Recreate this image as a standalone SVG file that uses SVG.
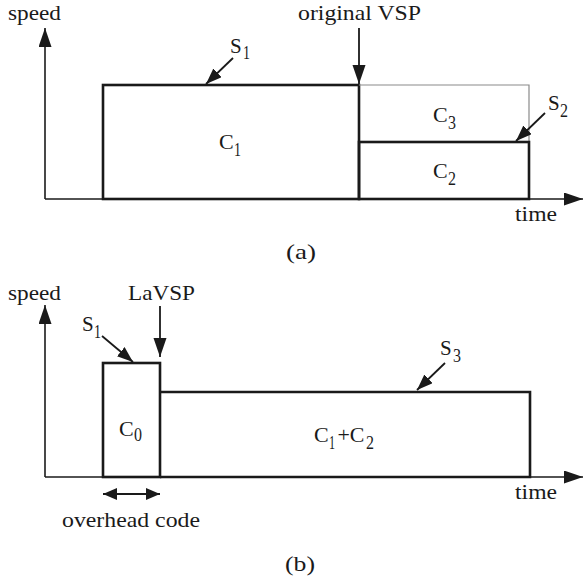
<svg xmlns="http://www.w3.org/2000/svg" width="584" height="580" viewBox="0 0 584 580">
<style>
.t{font-size:21px}
.c{font-size:22px}
.sub{font-size:18px}
.box{fill:none;stroke:#1a1a1a;stroke-width:2.6}
.ghost{fill:none;stroke:#8a8a8a;stroke-width:1.2}
.axis{fill:none;stroke:#1a1a1a;stroke-width:1.6}
.ptr{fill:none;stroke:#1a1a1a;stroke-width:1.8}
</style>
<defs>
<marker id="big" markerUnits="userSpaceOnUse" markerWidth="20" markerHeight="14" refX="19" refY="6.5" orient="auto">
<path d="M0,0 L19,6.5 L0,13 z" fill="#1a1a1a"/>
</marker>
<marker id="small" markerUnits="userSpaceOnUse" markerWidth="17" markerHeight="13" refX="16" refY="6" orient="auto">
<path d="M0,0 L16,6 L0,12 z" fill="#1a1a1a"/>
</marker>
<marker id="dbl" markerUnits="userSpaceOnUse" markerWidth="15" markerHeight="13" refX="14" refY="6" orient="auto-start-reverse">
<path d="M0,0 L14,6 L0,12 z" fill="#1a1a1a"/>
</marker>
</defs>

<g font-family="Liberation Serif, Times New Roman, serif" fill="#1a1a1a">
<!-- panel (a) -->
<g id="axes-a">
<text class="t" x="8" y="20" textLength="53" lengthAdjust="spacingAndGlyphs">speed</text>
<text class="t" x="515" y="221" textLength="42" lengthAdjust="spacingAndGlyphs">time</text>
</g>
<g id="c1">
<rect class="box" x="103" y="85" width="256" height="114"/>
<text class="c" x="219" y="149">C</text><text class="sub" x="234" y="156" textLength="7" lengthAdjust="spacingAndGlyphs">1</text>
</g>
<g id="c3">
<path class="ghost" d="M359,85 H529 V142"/>
<text class="c" x="433" y="122">C</text><text class="sub" x="448" y="129" textLength="8" lengthAdjust="spacingAndGlyphs">3</text>
</g>
<g id="c2">
<rect class="box" x="359" y="142" width="170" height="57"/>
<text class="c" x="433" y="178">C</text><text class="sub" x="448" y="185" textLength="8" lengthAdjust="spacingAndGlyphs">2</text>
</g>
<g id="s1-a"><text class="t" x="230" y="53">S</text><text class="sub" x="243" y="59" textLength="7" lengthAdjust="spacingAndGlyphs">1</text></g>
<g id="s2-a"><text class="t" x="548" y="110">S</text><text class="sub" x="560" y="117" textLength="8" lengthAdjust="spacingAndGlyphs">2</text></g>
<g id="vsp-a"><text class="t" x="298" y="20" textLength="123" lengthAdjust="spacingAndGlyphs">original VSP</text></g>
<g id="cap-a"><text class="t" x="286" y="259" textLength="30" lengthAdjust="spacingAndGlyphs">(a)</text></g>

<!-- panel (b) -->
<g id="axes-b">
<text class="t" x="8" y="300" textLength="53" lengthAdjust="spacingAndGlyphs">speed</text>
<text class="t" x="515" y="499" textLength="42" lengthAdjust="spacingAndGlyphs">time</text>
</g>
<g id="c0">
<rect class="box" x="103" y="363" width="57" height="114"/>
<text class="c" x="119" y="436">C</text><text class="sub" x="134" y="441" textLength="8" lengthAdjust="spacingAndGlyphs">0</text>
</g>
<g id="c1c2">
<path class="box" d="M160,392 H530 V477 H160"/>
<text class="c" x="314" y="442">C</text><text class="sub" x="329" y="449" textLength="6" lengthAdjust="spacingAndGlyphs">1</text><text class="c" x="337.5" y="442" textLength="27" lengthAdjust="spacingAndGlyphs">+C</text><text class="sub" x="366" y="449" textLength="8" lengthAdjust="spacingAndGlyphs">2</text>
</g>
<g id="s1-b"><text class="t" x="82" y="331">S</text><text class="sub" x="94" y="338" textLength="7" lengthAdjust="spacingAndGlyphs">1</text></g>
<g id="s3-b"><text class="t" x="440" y="355">S</text><text class="sub" x="453" y="362" textLength="8" lengthAdjust="spacingAndGlyphs">3</text></g>
<g id="lavsp-b"><text class="t" x="128" y="300" textLength="67" lengthAdjust="spacingAndGlyphs">LaVSP</text></g>
<g id="overhead-b"><text class="t" x="62" y="527" textLength="138" lengthAdjust="spacingAndGlyphs">overhead code</text></g>
<g id="cap-b"><text class="t" x="285" y="571" textLength="30" lengthAdjust="spacingAndGlyphs">(b)</text></g>
</g>

<g id="connectors">
<!-- axes (a) -->
<line class="axis" x1="45" y1="199" x2="45" y2="28" marker-end="url(#big)"/>
<line class="axis" x1="45" y1="199" x2="583" y2="199" marker-end="url(#big)"/>
<!-- axes (b) -->
<line class="axis" x1="45" y1="477" x2="45" y2="305" marker-end="url(#big)"/>
<line class="axis" x1="45" y1="477" x2="583" y2="477" marker-end="url(#big)"/>
<!-- VSP pointers -->
<line class="ptr" x1="359" y1="28" x2="359" y2="84" marker-end="url(#big)"/>
<line class="ptr" x1="160" y1="306" x2="160" y2="357" marker-end="url(#big)"/>
<!-- speed pointers -->
<line class="ptr" x1="233" y1="58" x2="206" y2="84" marker-end="url(#small)"/>
<line class="ptr" x1="545" y1="113" x2="516" y2="141" marker-end="url(#small)"/>
<line class="ptr" x1="102" y1="336" x2="133" y2="362" marker-end="url(#small)"/>
<line class="ptr" x1="445" y1="363" x2="417" y2="390" marker-end="url(#small)"/>
<!-- overhead span -->
<line class="ptr" x1="103" y1="494" x2="160" y2="494" marker-start="url(#dbl)" marker-end="url(#dbl)"/>
</g>
</svg>
